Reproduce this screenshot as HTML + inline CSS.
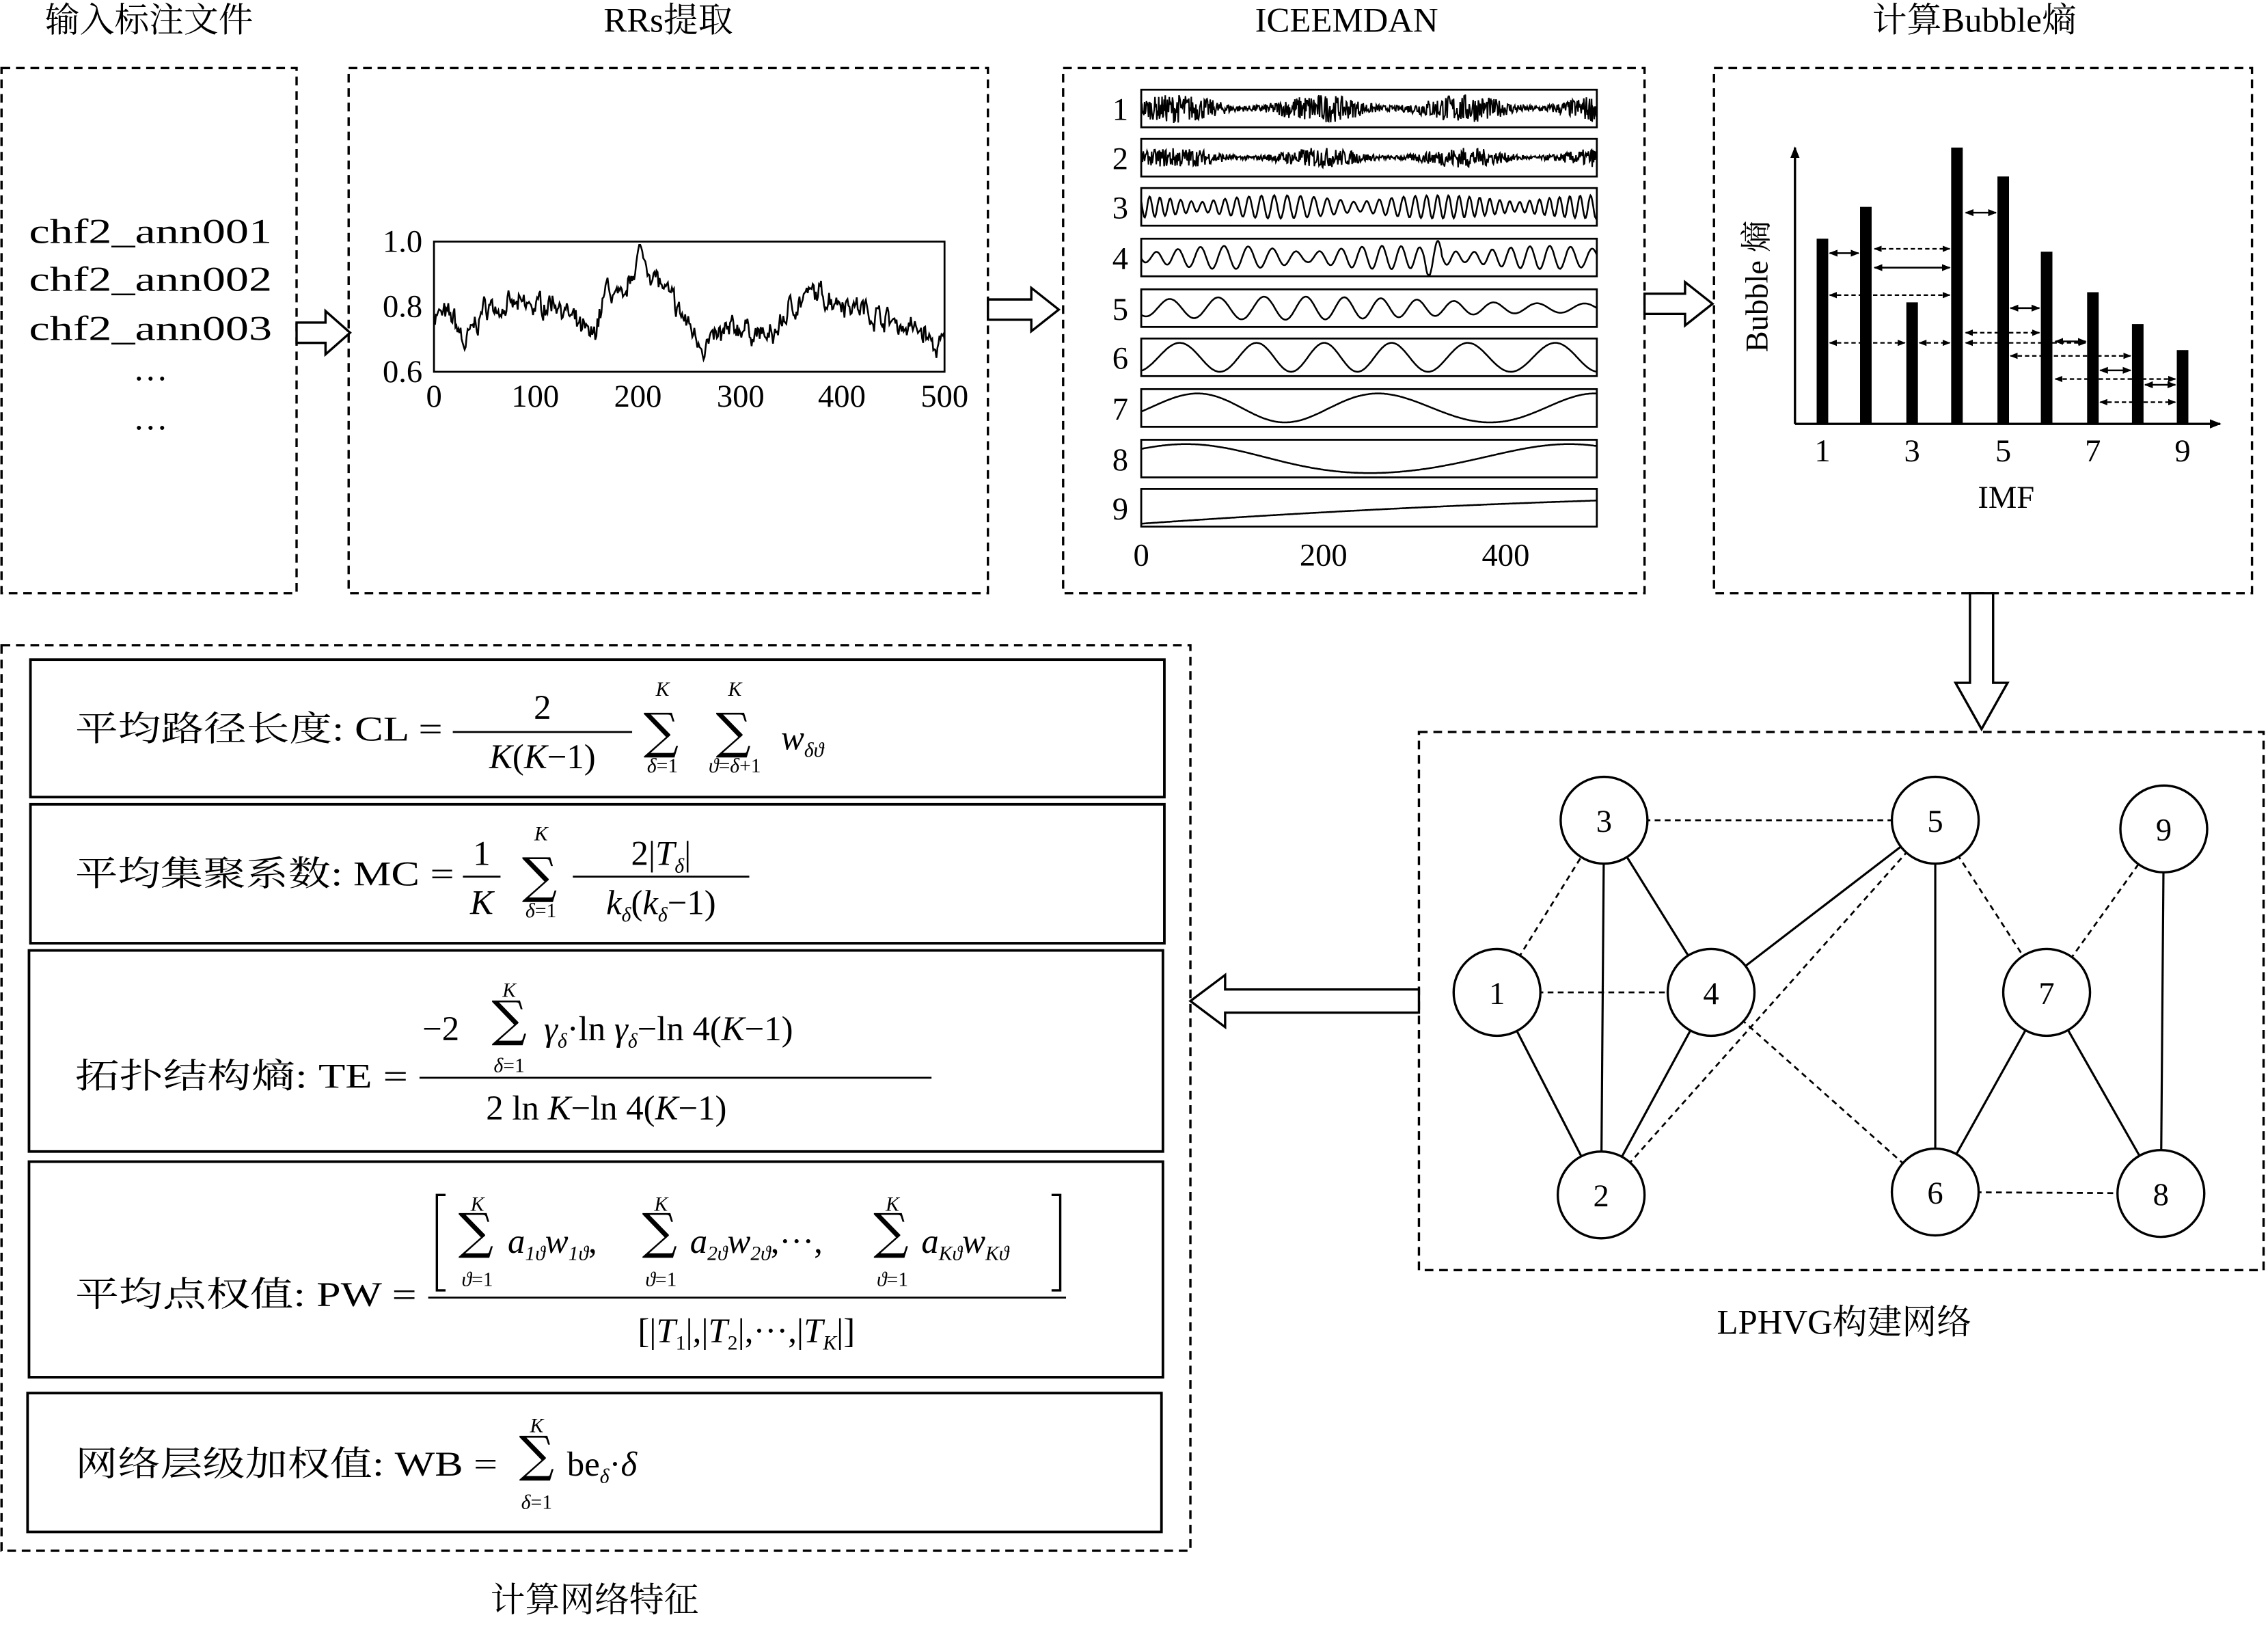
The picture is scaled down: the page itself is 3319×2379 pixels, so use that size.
<!DOCTYPE html>
<html><head><meta charset="utf-8">
<style>
html,body{margin:0;padding:0;background:#fff;}
svg{display:block;}
text{font-family:"Liberation Serif","Noto Serif CJK SC",serif;fill:#000;}
.t{font-size:24px;}
.s{font-size:14px;}
.i{font-style:italic;}
.sum{font-family:"DejaVu Serif",serif;font-size:34px;}
.lim{font-size:14px;text-anchor:middle;}
</style></head>
<body>
<svg id="s" width="3319" height="2379" viewBox="0 0 1568 1124" xmlns="http://www.w3.org/2000/svg">
<defs>
<marker id="ah" viewBox="0 0 10 10" refX="9" refY="5" markerWidth="5" markerHeight="5" orient="auto-start-reverse"><path d="M0,1 L10,5 L0,9 z" fill="#000"/></marker>
</defs>
<g fill="none" stroke="#000" stroke-width="1.6" stroke-dasharray="6,4">
<rect x="1" y="47" width="204" height="363"/>
<rect x="241" y="47" width="442" height="363"/>
<rect x="735" y="47" width="402" height="363"/>
<rect x="1185" y="47" width="372" height="363"/>
<rect x="981" y="506" width="584" height="372"/>
<rect x="1" y="446" width="822" height="626"/>
</g>
<g class="t" text-anchor="middle">
<text x="103" y="22">输入标注文件</text>
<text x="462" y="22">RRs提取</text>
<text x="931" y="22">ICEEMDAN</text>
<text x="1365" y="22">计算Bubble熵</text>
<text x="1275" y="922">LPHVG构建网络</text>
<text x="411" y="1114">计算网络特征</text>
</g>
<g class="t">
<text x="20" y="168" textLength="168" lengthAdjust="spacingAndGlyphs">chf2_ann001</text>
<text x="20" y="201" textLength="168" lengthAdjust="spacingAndGlyphs">chf2_ann002</text>
<text x="20" y="235" textLength="168" lengthAdjust="spacingAndGlyphs">chf2_ann003</text>
<text x="92" y="263">…</text>
<text x="92" y="297">…</text>
</g>
<g fill="#fff" stroke="#000" stroke-width="1.6">
<path d="M205,223 h20 v-8 l17,15 l-17,15 v-8 h-20 z"/>
<path d="M683,207 h30 v-8 l19,15 l-19,15 v-8 h-30 z"/>
<path d="M1137,203 h28 v-8 l19,15 l-19,15 v-8 h-28 z"/>
<path d="M1362,410 v62 h-10 l18,32 l18,-32 h-10 v-62 z"/>
<path d="M981,684 h-134 v-10 l-24,18 l24,18 v-10 h134 z"/>
</g>
<rect x="300" y="167" width="353" height="90" fill="none" stroke="#000" stroke-width="1.3"/>
<path id="rr" fill="none" stroke="#000" stroke-width="1.2"/>
<g text-anchor="end" style="font-size:22px">
<text x="292" y="174">1.0</text>
<text x="292" y="219">0.8</text>
<text x="292" y="264">0.6</text>
</g>
<g text-anchor="middle" style="font-size:22px">
<text x="300" y="281">0</text><text x="370" y="281">100</text><text x="441" y="281">200</text><text x="512" y="281">300</text><text x="582" y="281">400</text><text x="653" y="281">500</text>
</g>
<g id="imf"></g>
<g text-anchor="middle" style="font-size:22px">
<text x="789" y="391">0</text><text x="915" y="391">200</text><text x="1041" y="391">400</text>
</g>
<g stroke="#000" stroke-width="1.6" fill="none">
<path d="M1241,293 V102" marker-end="url(#ah)"/>
<path d="M1241,293 H1535" marker-end="url(#ah)"/>
</g>
<g fill="#000">
<rect x="1256" y="165" width="8" height="128"/>
<rect x="1286" y="143" width="8" height="150"/>
<rect x="1318" y="209" width="8" height="84"/>
<rect x="1349" y="102" width="8" height="191"/>
<rect x="1381" y="122" width="8" height="171"/>
<rect x="1411" y="174" width="8" height="119"/>
<rect x="1443" y="202" width="8" height="91"/>
<rect x="1474" y="224" width="8" height="69"/>
<rect x="1505" y="242" width="8" height="51"/>
</g>
<g stroke="#000" stroke-width="1.2" fill="none">
<path d="M1265,175 H1285" marker-start="url(#ah)" marker-end="url(#ah)"/>
<path d="M1296,185 H1348" marker-start="url(#ah)" marker-end="url(#ah)"/>
<path d="M1359,147 H1380" marker-start="url(#ah)" marker-end="url(#ah)"/>
<path d="M1390,213 H1410" marker-start="url(#ah)" marker-end="url(#ah)"/>
<path d="M1421,236 H1442" marker-start="url(#ah)" marker-end="url(#ah)"/>
<path d="M1452,256 H1473" marker-start="url(#ah)" marker-end="url(#ah)"/>
<path d="M1483,266 H1504" marker-start="url(#ah)" marker-end="url(#ah)"/>
</g>
<g stroke="#000" stroke-width="1.1" fill="none" stroke-dasharray="3,2">
<path d="M1265,204 H1348" marker-start="url(#ah)" marker-end="url(#ah)"/>
<path d="M1296,172 H1348" marker-start="url(#ah)" marker-end="url(#ah)"/>
<path d="M1265,237 H1317" marker-start="url(#ah)" marker-end="url(#ah)"/>
<path d="M1327,237 H1348" marker-start="url(#ah)" marker-end="url(#ah)"/>
<path d="M1359,237 H1442" marker-start="url(#ah)" marker-end="url(#ah)"/>
<path d="M1390,246 H1473" marker-start="url(#ah)" marker-end="url(#ah)"/>
<path d="M1421,262 H1504" marker-start="url(#ah)" marker-end="url(#ah)"/>
<path d="M1452,278 H1504" marker-start="url(#ah)" marker-end="url(#ah)"/>
<path d="M1359,230 H1410" marker-start="url(#ah)" marker-end="url(#ah)"/>
</g>
<g text-anchor="middle" style="font-size:22px">
<text x="1260" y="319">1</text><text x="1322" y="319">3</text><text x="1385" y="319">5</text><text x="1447" y="319">7</text><text x="1509" y="319">9</text>
<text x="1387" y="351">IMF</text>
<text x="0" y="0" transform="translate(1222,198) rotate(-90)">Bubble 熵</text>
</g>
<g stroke="#000" stroke-width="1.5">
<line x1="1109" y1="567" x2="1107" y2="826"/>
<line x1="1109" y1="567" x2="1183" y2="686"/>
<line x1="1035" y1="686" x2="1107" y2="826"/>
<line x1="1183" y1="686" x2="1107" y2="826"/>
<line x1="1183" y1="686" x2="1338" y2="567"/>
<line x1="1338" y1="567" x2="1338" y2="824"/>
<line x1="1415" y1="686" x2="1338" y2="824"/>
<line x1="1415" y1="686" x2="1494" y2="825"/>
<line x1="1496" y1="573" x2="1494" y2="825"/>
</g>
<g stroke="#000" stroke-width="1.3" stroke-dasharray="4,3">
<line x1="1035" y1="686" x2="1109" y2="567"/>
<line x1="1035" y1="686" x2="1183" y2="686"/>
<line x1="1109" y1="567" x2="1338" y2="567"/>
<line x1="1107" y1="826" x2="1338" y2="567"/>
<line x1="1183" y1="686" x2="1338" y2="824"/>
<line x1="1338" y1="567" x2="1415" y2="686"/>
<line x1="1415" y1="686" x2="1496" y2="573"/>
<line x1="1338" y1="824" x2="1494" y2="825"/>
</g>
<g fill="#fff" stroke="#000" stroke-width="1.6">
<circle cx="1035" cy="686" r="30"/><circle cx="1107" cy="826" r="30"/><circle cx="1109" cy="567" r="30"/>
<circle cx="1183" cy="686" r="30"/><circle cx="1338" cy="567" r="30"/><circle cx="1338" cy="824" r="30"/>
<circle cx="1415" cy="686" r="30"/><circle cx="1494" cy="825" r="30"/><circle cx="1496" cy="573" r="30"/>
</g>
<g text-anchor="middle" style="font-size:22px">
<text x="1035" y="694">1</text><text x="1107" y="834">2</text><text x="1109" y="575">3</text>
<text x="1183" y="694">4</text><text x="1338" y="575">5</text><text x="1338" y="832">6</text>
<text x="1415" y="694">7</text><text x="1494" y="833">8</text><text x="1496" y="581">9</text>
</g>
<g fill="none" stroke="#000" stroke-width="1.8">
<rect x="21" y="456" width="784" height="95"/>
<rect x="21" y="556" width="784" height="96"/>
<rect x="20" y="657" width="784" height="139"/>
<rect x="20" y="803" width="784" height="149"/>
<rect x="19" y="963" width="784" height="96"/>
</g>
<g stroke="#000" stroke-width="1.3">
<line x1="313" y1="506" x2="437" y2="506"/>
<line x1="320" y1="606" x2="346" y2="606"/>
<line x1="396" y1="606" x2="518" y2="606"/>
<line x1="290" y1="745" x2="644" y2="745"/>
<line x1="296" y1="897" x2="737" y2="897"/>
</g>
<g class="t">
<text x="52" y="512" textLength="254" lengthAdjust="spacingAndGlyphs">平均路径长度: CL =</text>
<text x="375" y="497" text-anchor="middle">2</text>
<text x="375" y="531" text-anchor="middle"><tspan class="i">K</tspan>(<tspan class="i">K</tspan>−1)</text>
<text x="457" y="517" class="sum" text-anchor="middle">∑</text>
<text x="507" y="517" class="sum" text-anchor="middle">∑</text>
<text x="458" y="481" class="lim i">K</text>
<text x="508" y="481" class="lim i">K</text>
<text x="458" y="534" class="lim"><tspan class="i">δ</tspan>=1</text>
<text x="508" y="534" class="lim"><tspan class="i">ϑ</tspan>=<tspan class="i">δ</tspan>+1</text>
<text x="540" y="518" class="i">w<tspan class="s" dy="5">δϑ</tspan></text>
</g>
<g class="t">
<text x="52" y="612" textLength="262" lengthAdjust="spacingAndGlyphs">平均集聚系数: MC =</text>
<text x="333" y="598" text-anchor="middle">1</text>
<text x="333" y="632" class="i" text-anchor="middle">K</text>
<text x="373" y="617" class="sum" text-anchor="middle">∑</text>
<text x="374" y="581" class="lim i">K</text>
<text x="374" y="634" class="lim"><tspan class="i">δ</tspan>=1</text>
<text x="457" y="598" text-anchor="middle">2|<tspan class="i">T</tspan><tspan class="s i" dy="5">δ</tspan><tspan dy="-5">|</tspan></text>
<text x="457" y="632" text-anchor="middle"><tspan class="i">k</tspan><tspan class="s i" dy="5">δ</tspan><tspan dy="-5">(</tspan><tspan class="i">k</tspan><tspan class="s i" dy="5">δ</tspan><tspan dy="-5">−1)</tspan></text>
</g>
<g class="t">
<text x="52" y="752" textLength="230" lengthAdjust="spacingAndGlyphs">拓扑结构熵: TE =</text>
<text x="292" y="719">−2</text>
<text x="352" y="716" class="sum" text-anchor="middle">∑</text>
<text x="352" y="689" class="lim i">K</text>
<text x="352" y="741" class="lim"><tspan class="i">δ</tspan>=1</text>
<text x="376" y="719"><tspan class="i">γ</tspan><tspan class="s i" dy="5">δ</tspan><tspan dy="-5">·ln  </tspan><tspan class="i">γ</tspan><tspan class="s i" dy="5">δ</tspan><tspan dy="-5">−ln  4(</tspan><tspan class="i">K</tspan>−1)</text>
<text x="336" y="774">2  ln  <tspan class="i">K</tspan>−ln  4(<tspan class="i">K</tspan>−1)</text>
</g>
<g class="t">
<text x="52" y="903" textLength="236" lengthAdjust="spacingAndGlyphs">平均点权值: PW =</text>
<path d="M308,826 h-6 v66 h6 M727,826 h6 v66 h-6" fill="none" stroke="#000" stroke-width="1.6"/>
<text x="329" y="863" class="sum" text-anchor="middle">∑</text>
<text x="330" y="837" class="lim i">K</text>
<text x="330" y="889" class="lim"><tspan class="i">ϑ</tspan>=1</text>
<text x="351" y="866" class="i">a<tspan class="s" dy="5">1ϑ</tspan><tspan dy="-5">w</tspan><tspan class="s" dy="5">1ϑ</tspan><tspan dy="-5" style="font-style:normal">,</tspan></text>
<text x="456" y="863" class="sum" text-anchor="middle">∑</text>
<text x="457" y="837" class="lim i">K</text>
<text x="457" y="889" class="lim"><tspan class="i">ϑ</tspan>=1</text>
<text x="477" y="866" class="i">a<tspan class="s" dy="5">2ϑ</tspan><tspan dy="-5">w</tspan><tspan class="s" dy="5">2ϑ</tspan><tspan dy="-5" style="font-style:normal">,···,</tspan></text>
<text x="616" y="863" class="sum" text-anchor="middle">∑</text>
<text x="617" y="837" class="lim i">K</text>
<text x="617" y="889" class="lim"><tspan class="i">ϑ</tspan>=1</text>
<text x="637" y="866" class="i">a<tspan class="s" dy="5">Kϑ</tspan><tspan dy="-5">w</tspan><tspan class="s" dy="5">Kϑ</tspan></text>
<text x="516" y="928" text-anchor="middle">[|<tspan class="i">T</tspan><tspan class="s" dy="5">1</tspan><tspan dy="-5">|,|</tspan><tspan class="i">T</tspan><tspan class="s" dy="5">2</tspan><tspan dy="-5">|,···,|</tspan><tspan class="i">T</tspan><tspan class="s i" dy="5">K</tspan><tspan dy="-5">|]</tspan></text>
</g>
<g class="t">
<text x="52" y="1020" textLength="292" lengthAdjust="spacingAndGlyphs">网络层级加权值: WB =</text>
<text x="371" y="1017" class="sum" text-anchor="middle">∑</text>
<text x="371" y="990" class="lim i">K</text>
<text x="371" y="1043" class="lim"><tspan class="i">δ</tspan>=1</text>
<text x="392" y="1020">be<tspan class="s i" dy="5">δ</tspan><tspan dy="-5">·</tspan><tspan class="i">δ</tspan></text>
</g>
</svg>
<script>
(function(){
var seed=7;function r(){seed=(seed*16807)%2147483647;return seed/2147483647;}
var kp=[[0,0.78],[20,0.76],[30,0.68],[50,0.8],[100,0.8],[120,0.82],[140,0.74],[155,0.7],[170,0.86],[185,0.8],[200,0.97],[215,0.9],[230,0.83],[250,0.74],[265,0.68],[300,0.74],[330,0.7],[350,0.8],[370,0.84],[400,0.82],[430,0.78],[460,0.74],[480,0.72],[490,0.67],[500,0.69]];
function base(i){for(var k=1;k<kp.length;k++){if(i<=kp[k][0]){var a=kp[k-1],b=kp[k],t=(i-a[0])/(b[0]-a[0]);return a[1]+(b[1]-a[1])*t;}}return 0.7;}
var d="",x0=300,x1=653,n=0;
for(var i=0;i<=500;i++){
 n=n*0.6+(r()-0.5)*0.05;
 var val=base(i)+n+(r()-0.5)*0.03;
 if(val>0.99)val=0.99;if(val<0.62)val=0.62;
 var x=x0+(x1-x0)*i/500,y=257-(val-0.6)/0.4*90;
 d+=(i?"L":"M")+x.toFixed(1)+","+y.toFixed(1);
}
document.getElementById("rr").setAttribute("d",d);
var g2=document.getElementById("imf"),ns="http://www.w3.org/2000/svg";
var ys=[62,96,130,165,200,234,269,304,338];
var cyc=[0,0,40,22,11,6,2.3,1.2,0];
for(var k=0;k<9;k++){
 var y=ys[k],h=26;
 var rc=document.createElementNS(ns,"rect");
 rc.setAttribute("x",789);rc.setAttribute("y",y);rc.setAttribute("width",315);rc.setAttribute("height",h);
 rc.setAttribute("fill","none");rc.setAttribute("stroke","#000");rc.setAttribute("stroke-width","1.3");g2.appendChild(rc);
 var t=document.createElementNS(ns,"text");t.setAttribute("x",780);t.setAttribute("y",y+21);
 t.setAttribute("text-anchor","end");t.setAttribute("style","font-size:22px");t.textContent=k+1;g2.appendChild(t);
 var p="",N=k<2?700:500,cy=y+h/2,ph=0;
 for(var j=0;j<=N;j++){
  var xx=789+315*j/N,a,u=j/N;
  if(k<2){a=(r()-0.5)*2*(k==0?10:7)*(0.6+0.4*Math.sin(u*20));}
  else if(k==8){a=-11+22*u-6*u*u;}
  else{
   var rate=cyc[k]*2*Math.PI/N*(1+0.15*Math.sin(u*7+k));
   ph+=rate;
   var env=(k<4)?(0.4+0.6*Math.abs(Math.sin(u*9+k))):(k==4?0.7+0.3*Math.sin(u*5):1);
   a=(k<4?8:(k==4?8:10))*env*Math.sin(ph+k);
   if(k==3&&u>0.62&&u<0.66)a*=2;
  }
  var yy=cy-a;if(yy<y+1)yy=y+1;if(yy>y+h-1)yy=y+h-1;
  p+=(j?"L":"M")+xx.toFixed(1)+","+yy.toFixed(1);
 }
 var pa=document.createElementNS(ns,"path");pa.setAttribute("d",p);pa.setAttribute("fill","none");
 pa.setAttribute("stroke","#000");pa.setAttribute("stroke-width",k<2?"1.0":"1.2");g2.appendChild(pa);
}
})();
</script>
</body></html>
